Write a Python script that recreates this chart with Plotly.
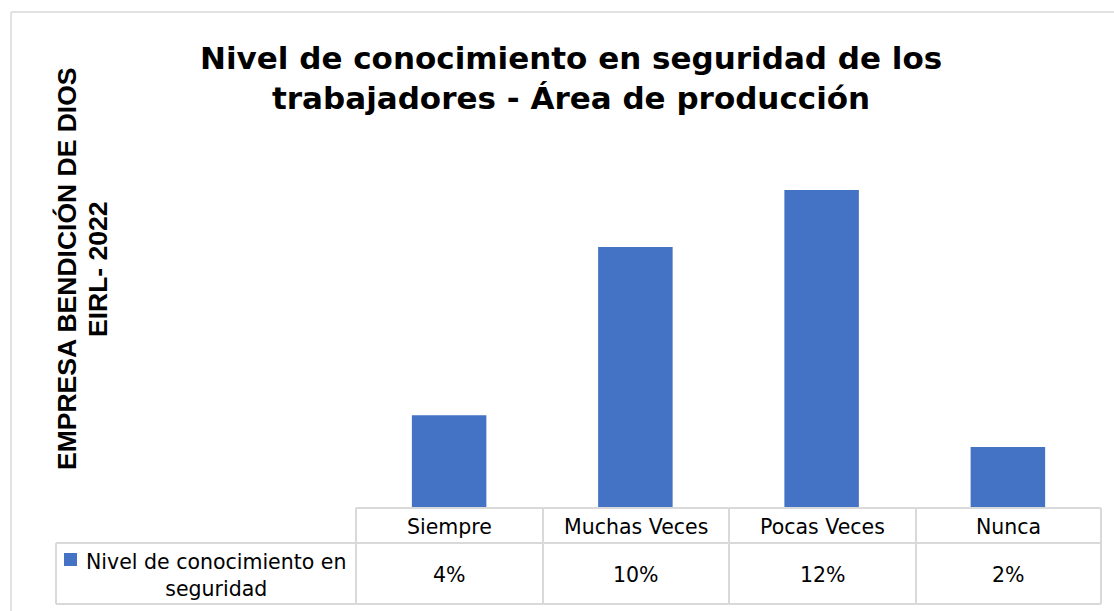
import plotly.graph_objects as go

# ---------------- data ----------------
categories = ["Siempre", "Muchas Veces", "Pocas Veces", "Nunca"]
values = [0.035, 0.0985, 0.12, 0.023]
series_name = "Nivel de conocimiento en seguridad"
series_label_lines = ["Nivel de conocimiento en", "seguridad"]
title_lines = ["Nivel de conocimiento en seguridad de los",
               "trabajadores - Área de producción"]
side_lines = ["EMPRESA BENDICIÓN DE DIOS", "EIRL- 2022"]

# ---------------- layout helpers ----------------
W, H = 1114, 611
BAR = "#4472C4"
GRID = "#D9D9D9"


def px(x):
    return x / W


def py(y):
    return 1 - y / H


col_edges = [356, 543, 729, 916, 1101]
leg_left = 56
row_top, row_mid, row_bot = 508, 543, 604
plot_top = 137

fig = go.Figure()
fig.add_trace(go.Bar(
    x=categories, y=values, name=series_name,
    marker=dict(color=BAR, line=dict(width=0)),
    showlegend=False, hoverinfo="x+y",
))

shapes = []
line = dict(color=GRID, width=2)
# chart outer border (top & left visible)
shapes.append(dict(type="line", xref="paper", yref="paper",
                   x0=px(11), x1=px(1120), y0=py(12), y1=py(12),
                   line=dict(color=GRID, width=1.5)))
shapes.append(dict(type="line", xref="paper", yref="paper",
                   x0=px(11), x1=px(11), y0=py(12), y1=py(620),
                   line=dict(color=GRID, width=1.5)))
# table horizontal lines
shapes.append(dict(type="line", xref="paper", yref="paper",
                   x0=px(col_edges[0]), x1=px(col_edges[-1]),
                   y0=py(row_top), y1=py(row_top), line=line))
for yy in (row_mid, row_bot):
    shapes.append(dict(type="line", xref="paper", yref="paper",
                       x0=px(leg_left), x1=px(col_edges[-1]),
                       y0=py(yy), y1=py(yy), line=line))
# vertical lines
for xx in col_edges:
    shapes.append(dict(type="line", xref="paper", yref="paper",
                       x0=px(xx), x1=px(xx), y0=py(row_top), y1=py(row_bot),
                       line=line))
shapes.append(dict(type="line", xref="paper", yref="paper",
                   x0=px(leg_left), x1=px(leg_left), y0=py(row_mid), y1=py(row_bot),
                   line=line))
# legend key
shapes.append(dict(type="rect", xref="paper", yref="paper",
                   x0=px(64), x1=px(77), y0=py(553), y1=py(566),
                   fillcolor=BAR, line=dict(width=0)))

annotations = []
FONT = "DejaVu Sans"
for i, cat in enumerate(categories):
    cx = (col_edges[i] + col_edges[i + 1]) / 2
    annotations.append(dict(text=cat, xref="paper", yref="paper",
                            x=px(cx), y=py((row_top + row_mid) / 2 + 1),
                            xanchor="center", yanchor="middle", showarrow=False,
                            font=dict(family=FONT, size=20.5, color="#000000")))
    annotations.append(dict(text=f"{round(values[i] * 100 + 1e-9):d}%", xref="paper", yref="paper",
                            x=px(cx), y=py((row_mid + row_bot) / 2 + 1),
                            xanchor="center", yanchor="middle", showarrow=False,
                            font=dict(family=FONT, size=20.5, color="#000000")))
annotations.append(dict(text="<br>".join(series_label_lines), xref="paper", yref="paper",
                        x=px(216), y=py(575), xanchor="center", yanchor="middle",
                        align="center", showarrow=False,
                        font=dict(family=FONT, size=20.5, color="#000000")))
# title
annotations.append(dict(text="<b>" + "<br>".join(title_lines) + "</b>",
                        xref="paper", yref="paper", x=px(571), y=py(78),
                        xanchor="center", yanchor="middle", align="center",
                        showarrow=False,
                        font=dict(family=FONT, size=31, color="#000000")))
# rotated side text
for xx, txt in zip((67, 98), side_lines):
    annotations.append(dict(text="<b>" + txt + "</b>", xref="paper", yref="paper",
                            x=px(xx), y=py(269), xanchor="center", yanchor="middle",
                            textangle=-90, showarrow=False,
                            font=dict(family="Liberation Sans", size=26.5, color="#000000")))

fig.update_layout(
    width=W, height=H,
    margin=dict(l=0, r=0, t=0, b=0),
    paper_bgcolor="white", plot_bgcolor="white",
    bargap=0.6,
    xaxis=dict(domain=[px(col_edges[0]), px(col_edges[-1])], range=[-0.5, 3.5],
               visible=False, fixedrange=True),
    yaxis=dict(domain=[py(row_top), py(plot_top)], range=[0, 0.14],
               visible=False, fixedrange=True),
    shapes=shapes, annotations=annotations,
)

fig.write_html("out.html")
